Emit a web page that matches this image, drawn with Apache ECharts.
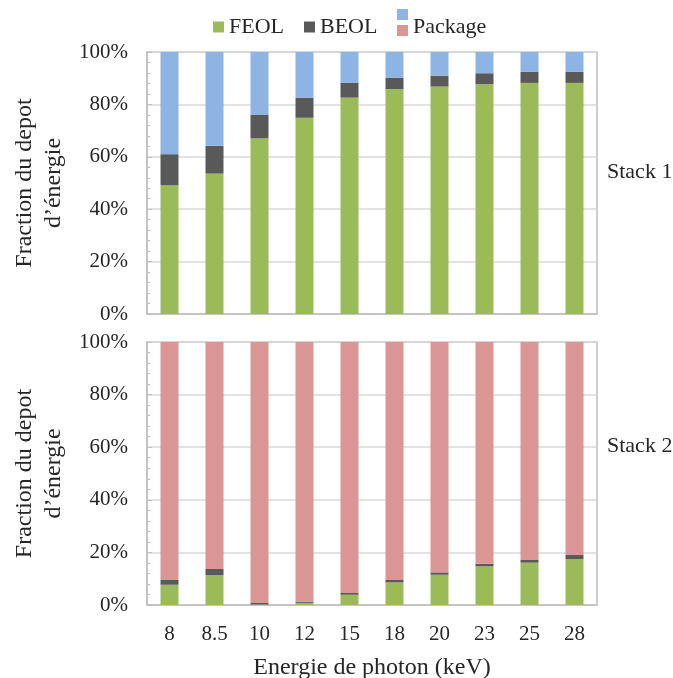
<!DOCTYPE html>
<html>
<head>
<meta charset="utf-8">
<script src="https://cdn.jsdelivr.net/npm/echarts@6/dist/echarts.min.js"></script>
<style>
  html, body { margin: 0; padding: 0; background: #fff; }
  #chart { width: 673px; height: 678px; }
</style>
</head>
<body>
<div id="chart"></div>
<script>
// energies (keV)
const categories = ["8", "8.5", "10", "12", "15", "18", "20", "23", "25", "28"];

// Stack 1 (%)
const feol1 = [49.2, 53.6, 67.0, 74.9, 82.6, 85.8, 86.8, 87.7, 88.2, 88.2];
const beol1 = [11.8, 10.6, 9.0, 7.7, 5.6, 4.3, 4.2, 4.2, 4.2, 4.2];
const pkg1 = [39.0, 35.8, 24.0, 17.4, 11.8, 9.9, 9.0, 8.1, 7.6, 7.6];

// Stack 2 (%)
const feol2 = [7.7, 11.4, 0.2, 0.8, 3.9, 8.6, 11.5, 14.7, 16.1, 17.5];
const beol2 = [1.8, 2.3, 0.6, 0.5, 0.7, 0.9, 0.9, 1.0, 1.0, 1.5];
const pkg2 = [90.5, 86.3, 99.2, 98.7, 95.4, 90.5, 87.6, 84.3, 82.9, 81.0];

const font = '"Liberation Serif", "Times New Roman", serif';
const txt = "#262626";
const gray = "#BFBFBF";
const green = "#9BBB59";
const dark = "#595959";
const blue = "#8DB4E2";
const pink = "#DA9694";

const chart = echarts.init(document.getElementById("chart"));

function yAxis(gridIndex) {
  return {
    type: "value",
    gridIndex: gridIndex,
    min: 0,
    max: 100,
    interval: 20,
    name: "Fraction du depot\nd\u2019énergie",
    nameLocation: "middle",
    nameRotate: 90,
    nameGap: 79,
    nameTextStyle: { fontFamily: font, fontSize: 24, color: txt, lineHeight: 29 },
    axisLabel: {
      formatter: "{value}%",
      fontFamily: font,
      fontSize: 21,
      color: txt,
      margin: 19,
    },
    axisLine: { show: true, lineStyle: { color: gray, width: 1.5 } },
    axisTick: { show: true, inside: true, length: 5, lineStyle: { color: gray } },
    minorTick: { show: true, splitNumber: 5, length: 3, lineStyle: { color: gray } },
    splitLine: { show: true, lineStyle: { color: "#D9D9D9", width: 1.5 } },
  };
}

function bar(name, data, color, idx) {
  return {
    name: name,
    type: "bar",
    stack: "s" + idx,
    xAxisIndex: idx,
    yAxisIndex: idx,
    barWidth: "40%",
    data: data,
    itemStyle: { color: color },
    emphasis: { disabled: true },
  };
}

const legendText = { fontFamily: font, fontSize: 22, color: txt };

const option = {
  animation: false,
  backgroundColor: "#fff",
  legend: [
    {
      data: ["FEOL", "BEOL"],
      left: 213,
      top: 16,
      padding: 0,
      icon: "rect",
      itemWidth: 11,
      itemHeight: 11,
      itemGap: 20,
      textStyle: legendText,
    },
    {
      data: [{ name: "Package", itemStyle: { opacity: 0 } }],
      left: 397,
      top: 16,
      padding: 0,
      icon: "rect",
      itemWidth: 11,
      itemHeight: 11,
      textStyle: legendText,
    },
  ],
  grid: [
    { left: 147, right: 76, top: 52, height: 262, outerBoundsMode: "none", containLabel: false,
      show: true, borderColor: gray, borderWidth: 1.5 },
    { left: 147, right: 76, top: 342, height: 263, outerBoundsMode: "none", containLabel: false,
      show: true, borderColor: gray, borderWidth: 1.5 },
  ],
  xAxis: [
    {
      type: "category",
      gridIndex: 0,
      data: categories,
      axisLabel: { show: false },
      axisTick: { show: false },
      axisLine: { lineStyle: { color: gray, width: 1.5 } },
    },
    {
      type: "category",
      gridIndex: 1,
      data: categories,
      name: "Energie de photon (keV)",
      nameLocation: "middle",
      nameGap: 51,
      nameTextStyle: { fontFamily: font, fontSize: 24, color: txt },
      axisLabel: { fontFamily: font, fontSize: 21, color: txt, margin: 19 },
      axisTick: { show: false },
      axisLine: { lineStyle: { color: gray, width: 1.5 } },
    },
  ],
  yAxis: [yAxis(0), yAxis(1)],
  graphic: {
    elements: [
      { type: "rect", id: "pkgBlue", zlevel: 1, z: 100, x: 397, y: 9,
        shape: { x: 0, y: 0, width: 11, height: 11 }, style: { fill: blue } },
      { type: "rect", id: "pkgPink", zlevel: 1, z: 100, x: 397, y: 25,
        shape: { x: 0, y: 0, width: 11, height: 11 }, style: { fill: pink } },
      { type: "text", id: "s1", left: 607, top: 161,
        style: { text: "Stack 1", font: "22px " + font, fill: txt } },
      { type: "text", id: "s2", left: 607, top: 435,
        style: { text: "Stack 2", font: "22px " + font, fill: txt } },
    ],
  },
  series: [
    bar("FEOL", feol1, green, 0),
    bar("BEOL", beol1, dark, 0),
    bar("Package", pkg1, blue, 0),
    bar("FEOL", feol2, green, 1),
    bar("BEOL", beol2, dark, 1),
    bar("Package", pkg2, pink, 1),
  ],
};

chart.setOption(option);
window.addEventListener("resize", chart.resize);
</script>
</body>
</html>
